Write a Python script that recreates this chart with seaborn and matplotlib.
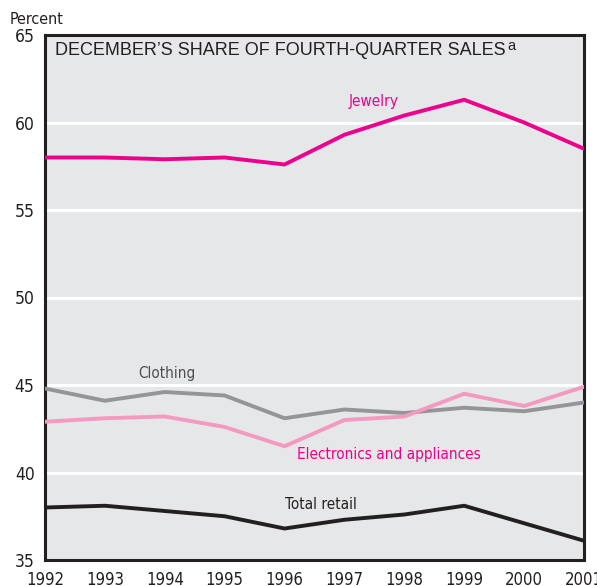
import matplotlib
matplotlib.use("Agg")
import matplotlib.pyplot as plt
from matplotlib.transforms import offset_copy
import seaborn as sns
import pandas as pd

years = [1992, 1993, 1994, 1995, 1996, 1997, 1998, 1999, 2000, 2001]
jewelry = [58.0, 58.0, 57.9, 58.0, 57.6, 59.3, 60.4, 61.3, 60.0, 58.5]
clothing = [44.8, 44.1, 44.6, 44.4, 43.1, 43.6, 43.4, 43.7, 43.5, 44.0]
electronics = [42.9, 43.1, 43.2, 42.6, 41.5, 43.0, 43.2, 44.5, 43.8, 44.9]
total_retail = [38.0, 38.1, 37.8, 37.5, 36.8, 37.3, 37.6, 38.1, 37.1, 36.1]
y_ticks = [35, 40, 45, 50, 55, 60, 65]

series = {
    "Jewelry": jewelry,
    "Clothing": clothing,
    "Electronics and appliances": electronics,
    "Total retail": total_retail,
}
df = pd.DataFrame(
    [(name, yr, v) for name, vals in series.items() for yr, v in zip(years, vals)],
    columns=["series", "year", "share"],
)

palette = {
    "Jewelry": "#ec008c",
    "Clothing": "#939598",
    "Electronics and appliances": "#f49ac1",
    "Total retail": "#231f20",
}

sns.set_style("white")
plt.rcParams["font.family"] = ["DejaVu Sans"]
plt.rcParams["font.stretch"] = "condensed"

fig = plt.figure(figsize=(5.97, 5.86), dpi=100)
ax = fig.add_axes([45 / 597, 1 - 560 / 586, (584 - 45) / 597, (560 - 35) / 586])
ax.set_facecolor("#e6e7e8")

for yv in [40, 45, 50, 55, 60]:
    ax.axhline(yv, color="white", lw=2.2, zorder=0.5)

sns.lineplot(data=df, x="year", y="share", hue="series", palette=palette,
             linewidth=2.8, legend=False, ax=ax, zorder=3)

ax.set_xlim(1992, 2001)
ax.set_ylim(35, 65)
ax.set_xticks(years)
ax.set_xticklabels([str(y) for y in years])
ax.set_yticks(y_ticks)
ax.set_xlabel("")
ax.set_ylabel("")
ax.tick_params(axis="y", direction="in", length=11, width=2.2, color="#231f20",
               labelsize=12.5, labelcolor="#231f20", pad=7.5)
ax.tick_params(axis="x", direction="in", length=17, width=2.2, color="#231f20",
               labelsize=12, labelcolor="#231f20", pad=8)
for sp in ax.spines.values():
    sp.set_visible(True)
    sp.set_color("#231f20")
    sp.set_linewidth(2.2)

fig.text(10 / 597, 1 - 20 / 586, "Percent", fontsize=11.5, color="#231f20",
         va="center", ha="left")

# Panel title with a raised footnote marker
title_font = ["Liberation Sans", "DejaVu Sans"]
title = ax.text((55 - 45) / 539, 1 - (50.5 - 35) / 525,
                "DECEMBER\u2019S SHARE OF FOURTH-QUARTER SALES",
                transform=ax.transAxes, fontsize=13, family=title_font,
                fontstretch="normal", color="#231f20", ha="left", va="center")
fig.canvas.draw()
bb = title.get_window_extent().transformed(ax.transAxes.inverted())
ax.text(bb.x1, bb.y1, "a", transform=offset_copy(ax.transAxes, fig=fig, x=1.5, y=2.5,
                                                  units="points"),
        fontsize=10.5, family=title_font, fontstretch="normal", color="#231f20",
        ha="left", va="top")

label_size = 11
ax.text(1997.49, 61.2, "Jewelry", color="#ec008c", fontsize=label_size,
        ha="center", va="center")
ax.text(1994.04, 45.65, "Clothing", color="#4d4d4f", fontsize=label_size,
        ha="center", va="center")
ax.text(1997.74, 41.05, "Electronics and appliances", color="#ec008c",
        fontsize=label_size, ha="center", va="center")
ax.text(1996.61, 38.15, "Total retail", color="#231f20", fontsize=label_size,
        ha="center", va="center")

fig.savefig("out.png", dpi=100)
